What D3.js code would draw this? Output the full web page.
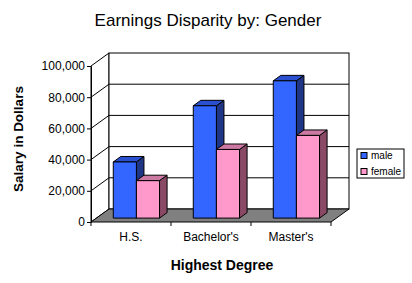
<!DOCTYPE html>
<html>
<head>
<meta charset="utf-8">
<script src="https://cdn.jsdelivr.net/npm/d3@7"></script>
<style>
  body { margin: 0; background: #fff; }
  svg { display: block; font-family: Arial, "Liberation Sans", sans-serif; }
</style>
</head>
<body>
<div id="chart"></div>
<script>
// Earnings disparity chart, 3D clustered columns
var categories = ["H.S.", "Bachelor's", "Master's"],
    series = ["male", "female"],
    male = [36000, 72000, 88000],
    female = [24000, 44000, 53000],
    yTicks = [0, 20000, 40000, 60000, 80000, 100000];

var width = 412, height = 283,
    // depth of the 3D box, as an offset from the front plane
    depthX = 18, depthY = -13,
    // bars sit between these fractions of the depth
    barFront = 0.3, barBack = 0.72;

var colors = {
  male:   {front: "#3366ff", top: "#2a4fcf", side: "#1f3585"},
  female: {front: "#ff99cc", top: "#cc7aa3", side: "#8a4a66"}
};

var svg = d3.select("#chart").append("svg")
  .attr("width", width)
  .attr("height", height);

var y = d3.scaleLinear().domain([0, 100000]).range([222, 66]);
var x = d3.scaleBand().domain(categories).range([91, 331]);
var x1 = d3.scaleBand().domain(series).range([0, x.bandwidth()]).paddingOuter(0.73);

var x0 = x.range()[0], xEnd = x.range()[1];

function pts(a) { return a.map(function(p) { return p.join(","); }).join(" "); }

// left wall
svg.append("polygon")
  .attr("points", pts([[x0, y(100000)], [x0 + depthX, y(100000) + depthY],
                       [x0 + depthX, y(0) + depthY], [x0, y(0)]]))
  .attr("fill", "#fff").attr("stroke", "#000");

// back wall
svg.append("rect")
  .attr("x", x0 + depthX).attr("y", y(100000) + depthY)
  .attr("width", xEnd - x0).attr("height", y(0) - y(100000))
  .attr("fill", "#fff").attr("stroke", "#000");

// gridlines on both walls
var grid = svg.append("g").attr("stroke", "#000").attr("fill", "none");
yTicks.slice(1, -1).forEach(function(v) {
  grid.append("polyline")
    .attr("points", pts([[x0, y(v)], [x0 + depthX, y(v) + depthY], [xEnd + depthX, y(v) + depthY]]));
});

// floor
svg.append("polygon")
  .attr("points", pts([[x0, y(0)], [xEnd, y(0)], [xEnd + depthX, y(0) + depthY], [x0 + depthX, y(0) + depthY]]))
  .attr("fill", "#808080").attr("stroke", "#000");

// bars
var data = [];
categories.forEach(function(c, i) {
  data.push({cat: c, key: "male", value: male[i]});
  data.push({cat: c, key: "female", value: female[i]});
});

var fdx = depthX * barFront, fdy = depthY * barFront,
    bdx = depthX * (barBack - barFront), bdy = depthY * (barBack - barFront);

var bars = svg.append("g").selectAll("g").data(data).enter().append("g")
  .attr("stroke", "#000").attr("stroke-width", 1).attr("stroke-linejoin", "round");

bars.each(function(d) {
  var g = d3.select(this),
      left = x(d.cat) + x1(d.key) + fdx,
      right = left + x1.bandwidth(),
      top = y(d.value) + fdy,
      bottom = y(0) + fdy;
  g.append("polygon")
    .attr("points", pts([[right, top], [right + bdx, top + bdy], [right + bdx, bottom + bdy], [right, bottom]]))
    .attr("fill", colors[d.key].side);
  g.append("polygon")
    .attr("points", pts([[left, top], [left + bdx, top + bdy], [right + bdx, top + bdy], [right, top]]))
    .attr("fill", colors[d.key].top);
  g.append("rect")
    .attr("x", left).attr("y", top)
    .attr("width", right - left).attr("height", bottom - top)
    .attr("fill", colors[d.key].front);
});

// y axis
var yAxis = svg.append("g")
  .attr("transform", "translate(" + x0 + ",0)")
  .call(d3.axisLeft(y).tickValues(yTicks).tickFormat(d3.format(",")).tickSize(4).tickSizeOuter(0).tickPadding(2));
yAxis.select(".domain").attr("stroke", "#000");
yAxis.selectAll("text").attr("font-size", 12).attr("font-family", "Arial, 'Liberation Sans', sans-serif").attr("fill", "#000");

// x axis: labels centred in bands, ticks on band boundaries
var xAxis = svg.append("g")
  .attr("transform", "translate(0," + y(0) + ")")
  .call(d3.axisBottom(x).tickSize(0).tickPadding(10));
xAxis.select(".domain").remove();
xAxis.selectAll("text").attr("font-size", 12).attr("font-family", "Arial, 'Liberation Sans', sans-serif").attr("fill", "#000");
xAxis.selectAll(".bound").data(categories.concat([null])).enter().append("line")
  .attr("class", "bound")
  .attr("x1", function(d) { return d ? x(d) : xEnd; })
  .attr("x2", function(d) { return d ? x(d) : xEnd; })
  .attr("y1", 0).attr("y2", 4)
  .attr("stroke", "#000");

// titles
svg.append("text")
  .attr("x", 208).attr("y", 26)
  .attr("text-anchor", "middle").attr("font-size", 17)
  .text("Earnings Disparity by: Gender");

svg.append("text")
  .attr("x", 222).attr("y", 270)
  .attr("text-anchor", "middle").attr("font-size", 14).attr("font-weight", "bold")
  .text("Highest Degree");

svg.append("text")
  .attr("transform", "translate(23,139) rotate(-90)")
  .attr("text-anchor", "middle").attr("font-size", 13.5).attr("font-weight", "bold")
  .text("Salary in Dollars");

// legend
var legend = svg.append("g").attr("transform", "translate(357,149)");
legend.append("rect")
  .attr("width", 47).attr("height", 29)
  .attr("fill", "#fff").attr("stroke", "#000");
var items = legend.selectAll(".item").data(series).enter().append("g")
  .attr("class", "item")
  .attr("transform", function(d, i) { return "translate(4," + (3.5 + i * 16) + ")"; });
items.append("rect")
  .attr("width", 6).attr("height", 6)
  .attr("fill", function(d) { return colors[d].front; })
  .attr("stroke", "#000");
items.append("text")
  .attr("x", 10).attr("y", 6.5)
  .attr("font-size", 10)
  .text(function(d) { return d; });
</script>
</body>
</html>
